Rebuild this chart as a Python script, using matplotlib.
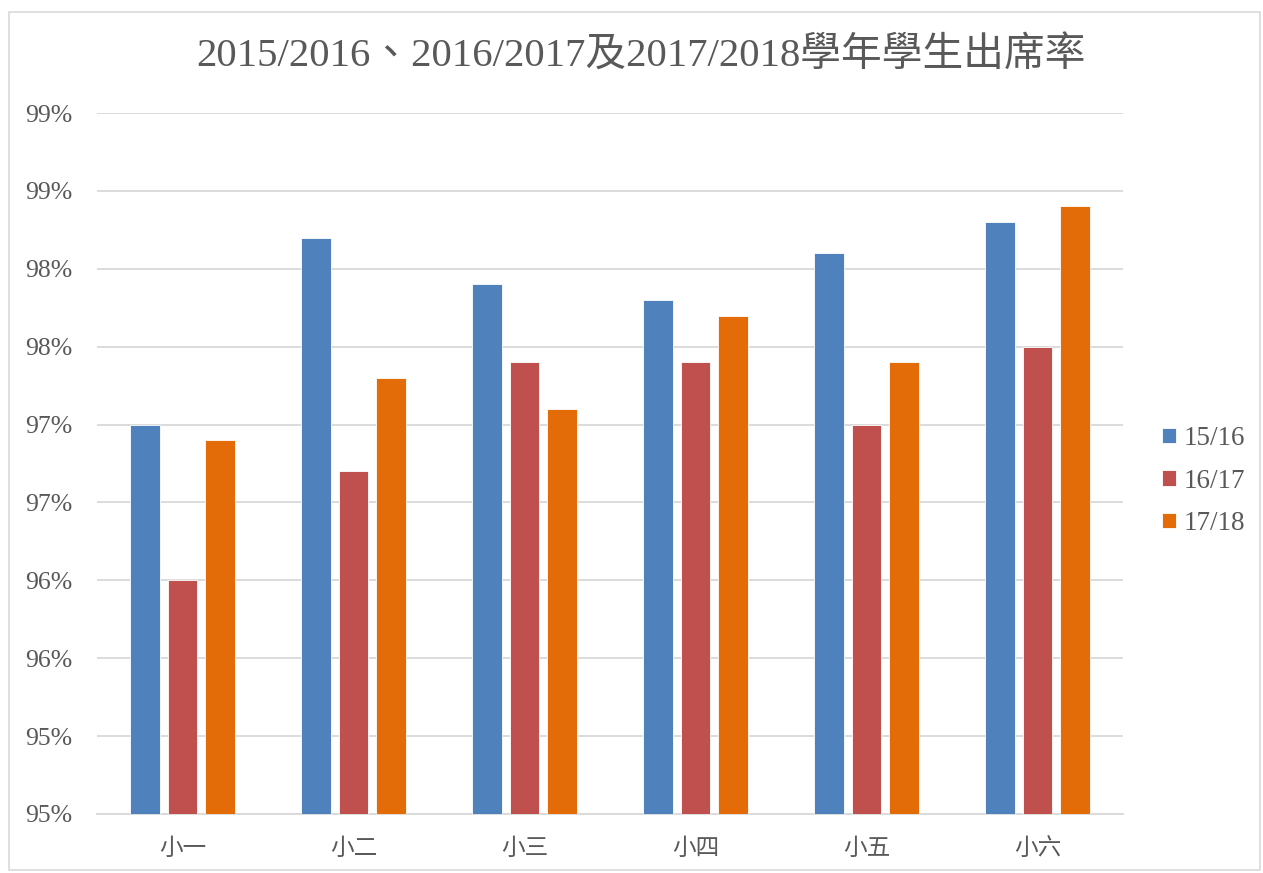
import matplotlib.pyplot as plt
import numpy as np
from matplotlib.patches import Rectangle

plt.rcParams['font.family'] = ['Liberation Serif', 'Noto Sans CJK TC', 'DejaVu Sans']

# data (percent)
grades = ['小一', '小二', '小三', '小四', '小五', '小六']
series = ['15/16', '16/17', '17/18']
y1516 = [97.5, 98.7, 98.4, 98.3, 98.6, 98.8]
y1617 = [96.5, 97.2, 97.9, 97.9, 97.5, 98.0]
y1718 = [97.4, 97.8, 97.6, 98.2, 97.9, 98.9]
yticks = [95.0, 95.5, 96.0, 96.5, 97.0, 97.5, 98.0, 98.5, 99.0, 99.5]
ytick_labels = ['95%', '95%', '96%', '96%', '97%', '97%', '98%', '98%', '99%', '99%']

colors = ['#4F81BD', '#C0504D', '#E36C09']
text_col = '#595959'

fig = plt.figure(figsize=(12.63, 8.73), dpi=100)
fig.patches.append(Rectangle((9 / 1263, 3 / 873), 1251 / 1263, 858 / 873,
                             transform=fig.transFigure, fill=False,
                             edgecolor='#D9D9D9', linewidth=1.2))

ax = fig.add_axes([97 / 1263, 59 / 873, 1026 / 1263, 701 / 873])
x = np.arange(len(grades))
width = 0.175
pitch = 0.22
for i, (vals, name) in enumerate(zip([y1516, y1617, y1718], series)):
    ax.bar(x + (i - 1) * pitch, vals, width, bottom=0, color=colors[i],
           label=name, edgecolor='white', linewidth=0.6, zorder=3)

ax.set_ylim(95.0, 99.5)
ax.set_xlim(-0.5, len(grades) - 0.5)
ax.set_yticks(yticks)
ax.set_yticklabels(ytick_labels)
ax.set_xticks(x)
ax.set_xticklabels(grades)
ax.tick_params(axis='both', length=0, colors=text_col)
ax.tick_params(axis='y', pad=18, labelsize=18.5)
ax.tick_params(axis='x', pad=18, labelsize=17)
ax.grid(axis='y', color='#D9D9D9', linewidth=1.3, zorder=0)
for s in ['top', 'right', 'left']:
    ax.spines[s].set_visible(False)
ax.spines['bottom'].set_color('#D9D9D9')
ax.spines['bottom'].set_linewidth(1.3)

fig.text(641 / 1263, 1 - 57 / 873, '2015/2016、2016/2017及2017/2018學年學生出席率',
         ha='center', va='center', fontsize=29.3, color=text_col)

leg = fig.legend(loc='center left', bbox_to_anchor=(1162 / 1263, 1 - 481 / 873),
                 frameon=False, fontsize=19.5, labelcolor=text_col,
                 handlelength=0.5, handleheight=0.5, handletextpad=0.3,
                 labelspacing=0.65, borderpad=0, borderaxespad=0)

fig.savefig('out.png', dpi=100)
